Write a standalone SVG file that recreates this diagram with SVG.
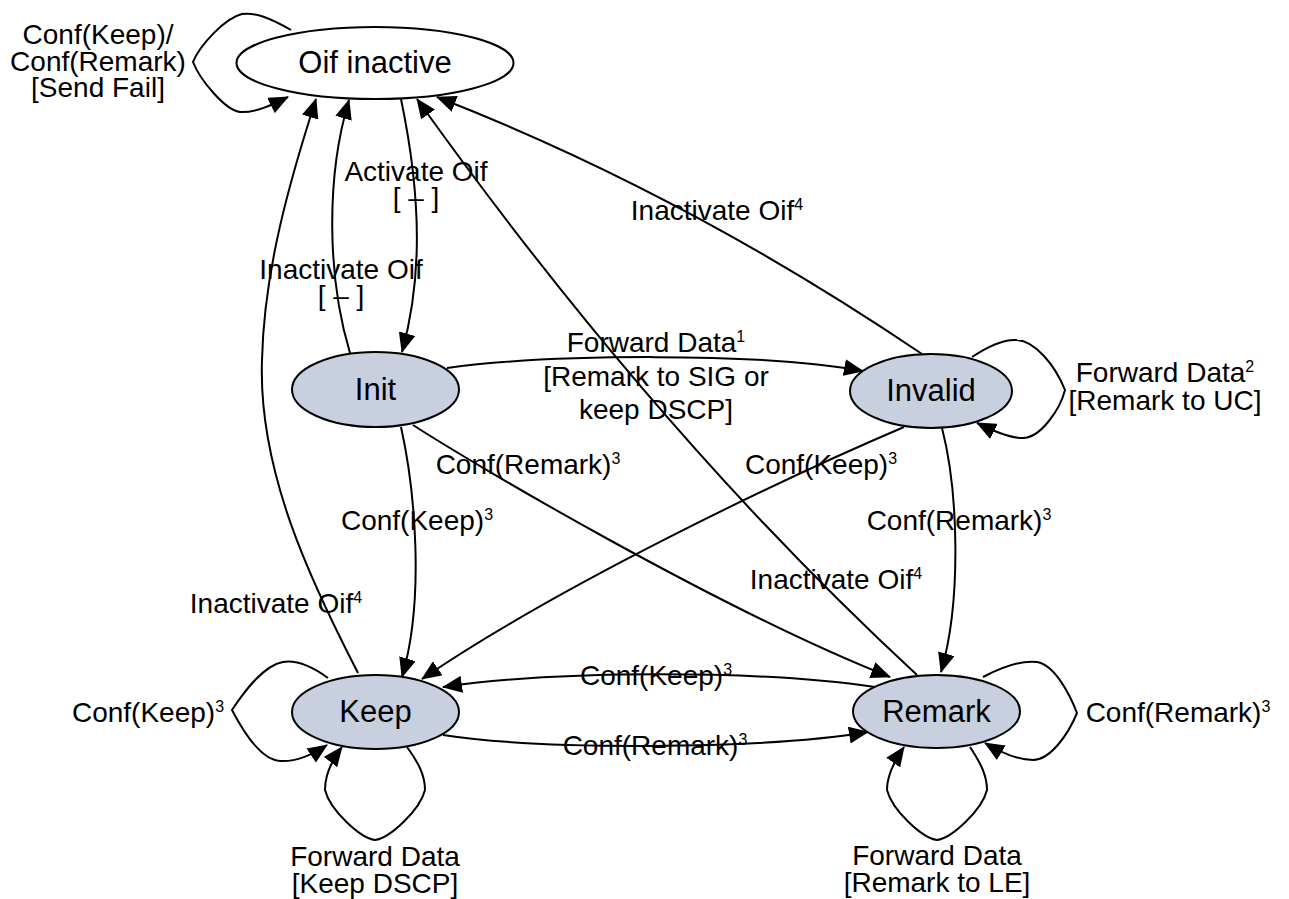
<svg xmlns="http://www.w3.org/2000/svg" width="1289" height="899" viewBox="0 0 1289 899">
  <style>
    .node { fill: #c8cfdf; stroke: #000; stroke-width: 2; }
    .node-plain { fill: #fff; stroke: #000; stroke-width: 2; }
    .nlabel { font-family: "Liberation Sans", Arial, sans-serif; font-size: 31px; fill: #000; text-anchor: middle; }
    .elabel { font-family: "Liberation Sans", Arial, sans-serif; font-size: 28px; fill: #000; text-anchor: middle; }
    .sup { font-size: 16px; }
    .edge { fill: none; stroke: #000; stroke-width: 2; marker-end: url(#arrow); }
  </style>
  <defs>
    <marker id="arrow" markerUnits="userSpaceOnUse" markerWidth="20" markerHeight="17" viewBox="0 0 20 17" refX="19" refY="8.5" orient="auto">
      <path d="M0,0 L20,8.5 L0,17 z" fill="#000"/>
    </marker>
  </defs>
  <rect width="1289" height="899" fill="#fff"/>

  <!-- transitions -->
  <g id="connectors">
    <!-- Oif inactive self-loop -->
    <path class="edge" d="M291,30 C270,18 255,12 242,14 C225,18 200,45 193,62 C200,80 225,110 240,112 C255,113 272,105 288,97"/>
    <!-- Oif inactive -> Init -->
    <path class="edge" d="M401,99 C422,200 422,280 402,352"/>
    <!-- Init -> Oif inactive -->
    <path class="edge" d="M350,353 C328,280 325,180 349,100"/>
    <!-- Keep -> Oif inactive -->
    <path class="edge" d="M358,673 C310,580 258,470 262,360 C264,270 290,180 316,99"/>
    <!-- Init -> Invalid -->
    <path class="edge" d="M447,368 C550,354 760,352 863,371"/>
    <!-- Remark -> Oif inactive -->
    <path class="edge" d="M917,675 C737,509 567,309 417,99"/>
    <!-- Invalid -> Oif inactive -->
    <path class="edge" d="M922,354 C820,285 650,180 437,97"/>
    <!-- Invalid self-loop -->
    <path class="edge" d="M972,357 C990,345 1005,339 1017,340 C1035,341 1055,365 1065,390 C1060,410 1040,438 1023,438 C1010,438 995,432 977,423"/>
    <!-- Init -> Keep -->
    <path class="edge" d="M401,427 C415,490 425,600 402,677"/>
    <!-- Init -> Remark -->
    <path class="edge" d="M413,425 C470,462 720,610 890,677"/>
    <!-- Invalid -> Keep -->
    <path class="edge" d="M904,427 C780,480 560,585 422,679"/>
    <!-- Invalid -> Remark -->
    <path class="edge" d="M942,428 C958,490 962,600 941,672"/>
    <!-- Remark -> Keep -->
    <path class="edge" d="M875,687 C760,670 560,670 443,687"/>
    <!-- Keep -> Remark -->
    <path class="edge" d="M443,735 C540,750 760,750 868,732"/>
    <!-- Keep self-loop (left) -->
    <path class="edge" d="M328,678 C310,665 295,660 283,662 C265,665 245,690 232,710 C245,735 262,760 280,761 C295,762 312,755 327,745"/>
    <!-- Keep self-loop (below) -->
    <path class="edge" d="M407,747 C418,762 425,775 425,790 C420,810 390,838 375,840 C360,838 330,810 325,790 C325,775 332,760 342,747"/>
    <!-- Remark self-loop (right) -->
    <path class="edge" d="M983,677 C1000,668 1020,660 1037,662 C1055,665 1070,695 1077,713 C1068,735 1050,760 1033,760 C1018,760 1000,752 985,743"/>
    <!-- Remark self-loop (below) -->
    <path class="edge" d="M970,747 C980,762 987,775 987,790 C982,810 952,838 937,840 C922,838 892,810 887,790 C887,775 895,760 904,747"/>
  </g>

  <!-- transition labels -->
  <g id="edge-labels">
    <text class="elabel"><tspan x="98" y="44">Conf(Keep)/</tspan><tspan x="98" y="71">Conf(Remark)</tspan><tspan x="98" y="97">[Send Fail]</tspan></text>
    <text class="elabel"><tspan x="416" y="181">Activate Oif</tspan><tspan x="416" y="207">[ – ]</tspan></text>
    <text class="elabel"><tspan x="341" y="279">Inactivate Oif</tspan><tspan x="341" y="305">[ – ]</tspan></text>
    <text class="elabel" x="717" y="220">Inactivate Oif<tspan class="sup" dy="-10">4</tspan></text>
    <text class="elabel" x="656" y="352">Forward Data<tspan class="sup" dy="-10">1</tspan></text>
    <text class="elabel"><tspan x="656" y="386">[Remark to SIG or</tspan><tspan x="656" y="419">keep DSCP]</tspan></text>
    <text class="elabel" x="1165" y="382">Forward Data<tspan class="sup" dy="-10">2</tspan></text>
    <text class="elabel" x="1165" y="410">[Remark to UC]</text>
    <text class="elabel" x="528" y="474">Conf(Remark)<tspan class="sup" dy="-10">3</tspan></text>
    <text class="elabel" x="821" y="474">Conf(Keep)<tspan class="sup" dy="-10">3</tspan></text>
    <text class="elabel" x="417" y="530">Conf(Keep)<tspan class="sup" dy="-10">3</tspan></text>
    <text class="elabel" x="959" y="530">Conf(Remark)<tspan class="sup" dy="-10">3</tspan></text>
    <text class="elabel" x="836" y="589">Inactivate Oif<tspan class="sup" dy="-10">4</tspan></text>
    <text class="elabel" x="276" y="613">Inactivate Oif<tspan class="sup" dy="-10">4</tspan></text>
    <text class="elabel" x="656" y="685">Conf(Keep)<tspan class="sup" dy="-10">3</tspan></text>
    <text class="elabel" x="655" y="755">Conf(Remark)<tspan class="sup" dy="-10">3</tspan></text>
    <text class="elabel" x="148" y="722">Conf(Keep)<tspan class="sup" dy="-10">3</tspan></text>
    <text class="elabel" x="1178" y="722">Conf(Remark)<tspan class="sup" dy="-10">3</tspan></text>
    <text class="elabel"><tspan x="375" y="866">Forward Data</tspan><tspan x="375" y="893">[Keep DSCP]</tspan></text>
    <text class="elabel"><tspan x="937" y="865">Forward Data</tspan><tspan x="937" y="892">[Remark to LE]</tspan></text>
  </g>

  <!-- states -->
  <g id="oif-inactive">
    <ellipse class="node-plain" cx="375" cy="63" rx="138.5" ry="36"/>
    <text class="nlabel" x="375" y="73">Oif inactive</text>
  </g>
  <g id="init">
    <ellipse class="node" cx="375.5" cy="389.5" rx="83.5" ry="37.5"/>
    <text class="nlabel" x="375.5" y="400">Init</text>
  </g>
  <g id="invalid">
    <ellipse class="node" cx="931" cy="391" rx="81" ry="37"/>
    <text class="nlabel" x="931" y="401">Invalid</text>
  </g>
  <g id="keep">
    <ellipse class="node" cx="375.5" cy="712" rx="83.5" ry="37"/>
    <text class="nlabel" x="375.5" y="722">Keep</text>
  </g>
  <g id="remark">
    <ellipse class="node" cx="936.5" cy="711.5" rx="83.5" ry="36.5"/>
    <text class="nlabel" x="936.5" y="722">Remark</text>
  </g>
</svg>
